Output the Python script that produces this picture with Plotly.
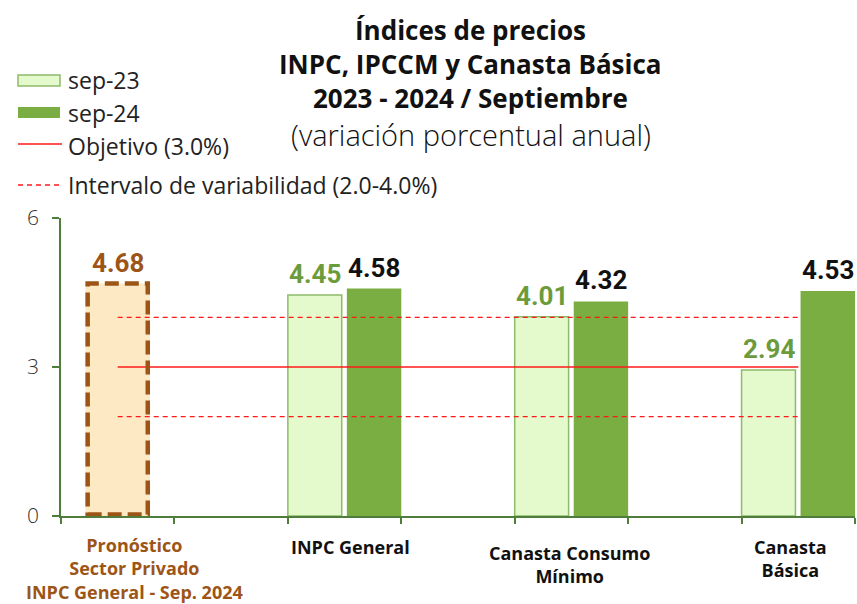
import plotly.graph_objects as go

# ---- data ----
categories = ["Pronóstico<br>Sector Privado<br>INPC General - Sep. 2024",
              "INPC General", "Canasta Consumo<br>Mínimo", "Canasta<br>Básica"]
cat_pos = [1, 3, 5, 7]
slot_edges = [0.5, 1.5, 2.5, 3.5, 4.5, 5.5, 6.5, 7.5]
forecast_value = [4.68]
sep23 = [4.45, 4.01, 2.94]
sep24 = [4.58, 4.32, 4.53]
objetivo = 3.0
intervalo = [2.0, 4.0]
y_ticks = [0, 3, 6]
legend_names = ["sep-23", "sep-24", "Objetivo (3.0%)", "Intervalo de variabilidad (2.0-4.0%)"]
title_lines = ["Índices de precios", "INPC, IPCCM y Canasta Básica",
               "2023 - 2024 / Septiembre", "(variación porcentual anual)"]

GREEN_LIGHT = "#e4f9cc"
GREEN_LIGHT_LINE = "#8dbb6a"
GREEN_DARK = "#7aae42"
BROWN = "#9c5516"
BROWN_FILL = "#fde9c4"
RED = "#ff1a1a"
AXIS_GREEN = "#4e7d3c"

W, H = 857, 604
ML, MR, MT, MB = 61, 2, 218, 88
PW, PH = W - ML - MR, H - MT - MB


def px2x(px):
    return (px - ML) / PW


def py2y(py):
    return (H - MB - py) / PH


SEP23_OFF, SEP23_W = -0.5, 0.475
SEP24_OFF, SEP24_W = 0.02, 0.48
FC_W = 0.57

fig = go.Figure()

fig.add_trace(go.Bar(
    x=[cat_pos[0]], y=forecast_value, width=FC_W,
    marker=dict(color=BROWN_FILL, line=dict(width=0)),
    showlegend=False, hoverinfo="skip"))

fig.add_trace(go.Bar(
    name=legend_names[0], x=cat_pos[1:], y=sep23, offset=SEP23_OFF, width=SEP23_W,
    marker=dict(color=GREEN_LIGHT, line=dict(color=GREEN_LIGHT_LINE, width=1.5)),
    showlegend=False))

fig.add_trace(go.Bar(
    name=legend_names[1], x=cat_pos[1:], y=sep24, offset=SEP24_OFF, width=SEP24_W,
    marker=dict(color=GREEN_DARK, line=dict(width=0)),
    showlegend=False))

fig.add_trace(go.Scatter(
    name=legend_names[2], x=[cat_pos[0], cat_pos[-1]], y=[objetivo, objetivo],
    mode="lines", line=dict(color=RED, width=1.6), hoverinfo="skip", showlegend=False))

fig.add_trace(go.Scatter(
    name=legend_names[3],
    x=[cat_pos[0], cat_pos[-1], None, cat_pos[0], cat_pos[-1]],
    y=[intervalo[1], intervalo[1], None, intervalo[0], intervalo[0]],
    mode="lines", line=dict(color=RED, width=1.4, dash="5px,4px"),
    hoverinfo="skip", showlegend=False))

# dashed outline of forecast bar
fig.add_shape(type="rect", xref="x", yref="y",
              x0=cat_pos[0] - FC_W / 2 + 0.02, x1=cat_pos[0] + FC_W / 2 - 0.02,
              y0=0.03, y1=forecast_value[0],
              line=dict(color=BROWN, width=4.5, dash="14px,6px"))

annotations = []
label_font = dict(family="Roboto", size=26, weight="bold")
# value labels
annotations.append(dict(x=cat_pos[0], y=forecast_value[0], xref="x", yref="y",
                        text=f"{forecast_value[0]:.2f}", showarrow=False,
                        yanchor="bottom", yshift=4,
                        font=dict(label_font, color=BROWN)))
for c, v in zip(cat_pos[1:], sep23):
    annotations.append(dict(x=c + SEP23_OFF + SEP23_W / 2, y=v, xref="x", yref="y",
                            text=f"{v:.2f}", showarrow=False, yanchor="bottom", yshift=4,
                            font=dict(label_font, color="#6c9b3c")))
for c, v in zip(cat_pos[1:], sep24):
    annotations.append(dict(x=c + SEP24_OFF + SEP24_W / 2, y=v, xref="x", yref="y",
                            text=f"{v:.2f}", showarrow=False, yanchor="bottom", yshift=4,
                            font=dict(label_font, color="#111111")))

# category labels
cat_xshift = [17, 6, -2, -8]
cat_yshift = [-15, -17, -23, -17]
for i, (c, t) in enumerate(zip(cat_pos, categories)):
    annotations.append(dict(x=c, y=0, xref="x", yref="paper", text=f"<b>{t}</b>",
                            showarrow=False, yanchor="top", xanchor="center",
                            xshift=cat_xshift[i], yshift=cat_yshift[i],
                            font=dict(family="Open Sans", size=18,
                                      color=BROWN if i == 0 else "#111111")))

# title lines
title_y = [30, 64, 98, 134]
for i, t in enumerate(title_lines):
    bold = i < 3
    annotations.append(dict(x=px2x(471), y=py2y(title_y[i]), xref="paper", yref="paper",
                            text=f"<b>{t}</b>" if bold else t, showarrow=False,
                            xanchor="center", yanchor="middle",
                            font=dict(family="Open Sans", size=26 if bold else 29,
                                      color="#111111", weight=None if bold else 300)))

# manual legend
leg_y = [80, 113, 146, 185]
for name, yy in zip(legend_names, leg_y):
    annotations.append(dict(x=px2x(66), y=py2y(yy), xref="paper", yref="paper",
                            text=name, showarrow=False, xanchor="left", yanchor="middle",
                            font=dict(family="Open Sans", size=23, color="#222222")))

shapes_leg = [
    dict(type="rect", xref="paper", yref="paper", x0=px2x(18), x1=px2x(60),
         y0=py2y(86), y1=py2y(75), fillcolor=GREEN_LIGHT,
         line=dict(color=GREEN_LIGHT_LINE, width=1.5)),
    dict(type="rect", xref="paper", yref="paper", x0=px2x(18), x1=px2x(60),
         y0=py2y(118), y1=py2y(107), fillcolor=GREEN_DARK, line=dict(width=0)),
    dict(type="line", xref="paper", yref="paper", x0=px2x(18), x1=px2x(62),
         y0=py2y(leg_y[2] - 2), y1=py2y(leg_y[2] - 2), line=dict(color=RED, width=1.6)),
    dict(type="line", xref="paper", yref="paper", x0=px2x(18), x1=px2x(62),
         y0=py2y(leg_y[3]), y1=py2y(leg_y[3]), line=dict(color=RED, width=1.4, dash="5px,4px")),
]
for s in shapes_leg:
    fig.add_shape(**s)

fig.update_layout(
    width=W, height=H,
    margin=dict(l=ML, r=MR, t=MT, b=MB, autoexpand=False),
    paper_bgcolor="white", plot_bgcolor="white",
    barmode="overlay",
    font=dict(family="Open Sans", color="#222222"),
    showlegend=False,
    annotations=annotations,
    xaxis=dict(range=[0.5, 7.5], tickvals=slot_edges, ticktext=[""] * len(slot_edges),
               ticks="outside", ticklen=6, tickcolor=AXIS_GREEN, tickwidth=1.5,
               showgrid=False, zeroline=False, automargin=False,
               showline=True, linecolor=AXIS_GREEN, linewidth=1.5),
    yaxis=dict(range=[0, 6], tickvals=y_ticks, ticks="outside", ticklen=7,
               tickcolor=AXIS_GREEN, tickwidth=1.5, automargin=False,
               showline=True, linecolor=AXIS_GREEN, linewidth=1.5,
               showgrid=False, zeroline=False,
               tickfont=dict(family="Open Sans", size=21, color="#333333", weight=300),
               ticklabelstandoff=9),
)

fig.write_html("out.html", config={"displayModeBar": False},
               post_script="document.body.style.margin='0px';document.body.style.overflow='hidden';")
